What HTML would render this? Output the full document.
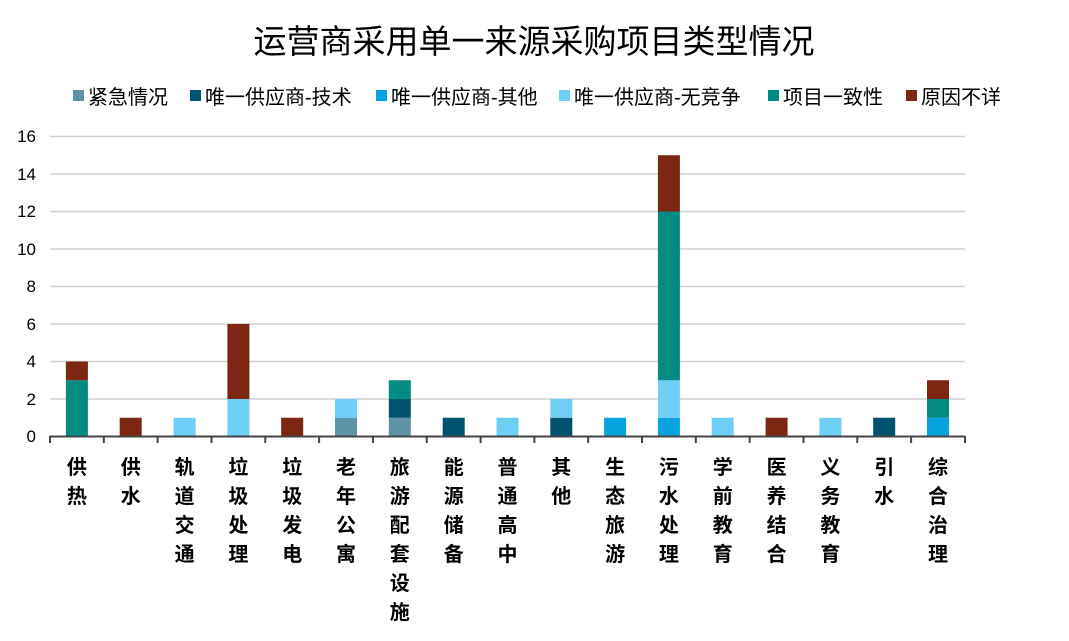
<!DOCTYPE html>
<html><head><meta charset="utf-8"><style>body{margin:0;background:#fff}svg{display:block}</style></head><body>
<svg width="1069" height="641" xmlns="http://www.w3.org/2000/svg" font-family="Liberation Sans, Noto Sans CJK SC, sans-serif">
<text x="534" y="53" font-size="33" text-anchor="middle" fill="#000">运营商采用单一来源采购项目类型情况</text>
<g font-size="20" fill="#000">
<rect x="73" y="90" width="11" height="11" fill="#5f93a8"/><text x="88" y="104">紧急情况</text>
<rect x="190" y="90" width="11" height="11" fill="#00536f"/><text x="205" y="104">唯一供应商-技术</text>
<rect x="376" y="90" width="11" height="11" fill="#05a4de"/><text x="391" y="104">唯一供应商-其他</text>
<rect x="559" y="90" width="11" height="11" fill="#6dcff6"/><text x="574" y="104">唯一供应商-无竞争</text>
<rect x="768" y="90" width="11" height="11" fill="#008b83"/><text x="783" y="104">项目一致性</text>
<rect x="906" y="90" width="11" height="11" fill="#7d2611"/><text x="921" y="104">原因不详</text>
</g>
<g stroke="#d0d0d0" stroke-width="1.5">
<line x1="50" x2="965" y1="136.5" y2="136.5"/><line x1="50" x2="965" y1="174" y2="174"/><line x1="50" x2="965" y1="211.5" y2="211.5"/><line x1="50" x2="965" y1="249" y2="249"/><line x1="50" x2="965" y1="286.5" y2="286.5"/><line x1="50" x2="965" y1="324" y2="324"/><line x1="50" x2="965" y1="361.5" y2="361.5"/><line x1="50" x2="965" y1="399" y2="399"/>
</g>
<g font-size="17" text-anchor="end" fill="#000">
<text x="36" y="442">0</text><text x="36" y="405">2</text><text x="36" y="367">4</text><text x="36" y="330">6</text><text x="36" y="292">8</text><text x="36" y="255">10</text><text x="36" y="217">12</text><text x="36" y="180">14</text><text x="36" y="142">16</text>
</g>
<g>
<rect x="65.9" y="380.25" width="22" height="56.25" fill="#008b83"/><rect x="65.9" y="361.5" width="22" height="18.75" fill="#7d2611"/>
<rect x="119.7" y="417.75" width="22" height="18.75" fill="#7d2611"/>
<rect x="173.6" y="417.75" width="22" height="18.75" fill="#6dcff6"/>
<rect x="227.4" y="399" width="22" height="37.5" fill="#6dcff6"/><rect x="227.4" y="324" width="22" height="75" fill="#7d2611"/>
<rect x="281.2" y="417.75" width="22" height="18.75" fill="#7d2611"/>
<rect x="335" y="417.75" width="22" height="18.75" fill="#5f93a8"/><rect x="335" y="399" width="22" height="18.75" fill="#6dcff6"/>
<rect x="388.8" y="417.75" width="22" height="18.75" fill="#5f93a8"/><rect x="388.8" y="399" width="22" height="18.75" fill="#00536f"/><rect x="388.8" y="380.25" width="22" height="18.75" fill="#008b83"/>
<rect x="442.7" y="417.75" width="22" height="18.75" fill="#00536f"/>
<rect x="496.5" y="417.75" width="22" height="18.75" fill="#6dcff6"/>
<rect x="550.3" y="417.75" width="22" height="18.75" fill="#00536f"/><rect x="550.3" y="399" width="22" height="18.75" fill="#6dcff6"/>
<rect x="604.1" y="417.75" width="22" height="18.75" fill="#05a4de"/>
<rect x="657.9" y="417.75" width="22" height="18.75" fill="#05a4de"/><rect x="657.9" y="380.25" width="22" height="37.5" fill="#6dcff6"/><rect x="657.9" y="211.5" width="22" height="168.75" fill="#008b83"/><rect x="657.9" y="155.25" width="22" height="56.25" fill="#7d2611"/>
<rect x="711.7" y="417.75" width="22" height="18.75" fill="#6dcff6"/>
<rect x="765.6" y="417.75" width="22" height="18.75" fill="#7d2611"/>
<rect x="819.4" y="417.75" width="22" height="18.75" fill="#6dcff6"/>
<rect x="873.2" y="417.75" width="22" height="18.75" fill="#00536f"/>
<rect x="927" y="417.75" width="22" height="18.75" fill="#05a4de"/><rect x="927" y="399" width="22" height="18.75" fill="#008b83"/><rect x="927" y="380.25" width="22" height="18.75" fill="#7d2611"/>
</g>
<line x1="50" x2="965" y1="436.5" y2="436.5" stroke="#444" stroke-width="2"/>
<path stroke="#444" stroke-width="2" d="M50 436v7M103.8 436v7M157.6 436v7M211.5 436v7M265.3 436v7M319.1 436v7M372.9 436v7M426.7 436v7M480.6 436v7M534.4 436v7M588.2 436v7M642 436v7M695.8 436v7M749.7 436v7M803.5 436v7M857.3 436v7M911.1 436v7M965 436v7"/>
<g font-size="20" font-weight="bold" text-anchor="middle" fill="#000">
<text x="76.9" y="474">供</text><text x="76.9" y="503">热</text>
<text x="130.7" y="474">供</text><text x="130.7" y="503">水</text>
<text x="184.6" y="474">轨</text><text x="184.6" y="503">道</text><text x="184.6" y="532">交</text><text x="184.6" y="561">通</text>
<text x="238.4" y="474">垃</text><text x="238.4" y="503">圾</text><text x="238.4" y="532">处</text><text x="238.4" y="561">理</text>
<text x="292.2" y="474">垃</text><text x="292.2" y="503">圾</text><text x="292.2" y="532">发</text><text x="292.2" y="561">电</text>
<text x="346" y="474">老</text><text x="346" y="503">年</text><text x="346" y="532">公</text><text x="346" y="561">寓</text>
<text x="399.8" y="474">旅</text><text x="399.8" y="503">游</text><text x="399.8" y="532">配</text><text x="399.8" y="561">套</text><text x="399.8" y="590">设</text><text x="399.8" y="619">施</text>
<text x="453.7" y="474">能</text><text x="453.7" y="503">源</text><text x="453.7" y="532">储</text><text x="453.7" y="561">备</text>
<text x="507.5" y="474">普</text><text x="507.5" y="503">通</text><text x="507.5" y="532">高</text><text x="507.5" y="561">中</text>
<text x="561.3" y="474">其</text><text x="561.3" y="503">他</text>
<text x="615.1" y="474">生</text><text x="615.1" y="503">态</text><text x="615.1" y="532">旅</text><text x="615.1" y="561">游</text>
<text x="668.9" y="474">污</text><text x="668.9" y="503">水</text><text x="668.9" y="532">处</text><text x="668.9" y="561">理</text>
<text x="722.7" y="474">学</text><text x="722.7" y="503">前</text><text x="722.7" y="532">教</text><text x="722.7" y="561">育</text>
<text x="776.6" y="474">医</text><text x="776.6" y="503">养</text><text x="776.6" y="532">结</text><text x="776.6" y="561">合</text>
<text x="830.4" y="474">义</text><text x="830.4" y="503">务</text><text x="830.4" y="532">教</text><text x="830.4" y="561">育</text>
<text x="884.2" y="474">引</text><text x="884.2" y="503">水</text>
<text x="938" y="474">综</text><text x="938" y="503">合</text><text x="938" y="532">治</text><text x="938" y="561">理</text>
</g>
</svg>
</body></html>
